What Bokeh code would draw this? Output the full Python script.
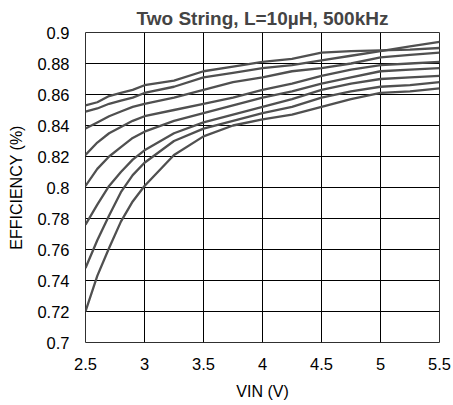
from bokeh.plotting import figure
from bokeh.embed import file_html
from bokeh.resources import INLINE
from bokeh.models import FixedTicker, Range1d

# ---- data ----
vin = [2.5, 2.6, 2.7, 2.8, 2.9, 3.0, 3.25, 3.5, 3.75, 4.0, 4.25, 4.5, 4.75, 5.0, 5.25, 5.5]
eff_1 = [0.853, 0.855, 0.859, 0.861, 0.863, 0.866, 0.869, 0.875, 0.878, 0.881, 0.883, 0.887, 0.888, 0.8885, 0.889, 0.890]
eff_2 = [0.849, 0.851, 0.854, 0.856, 0.858, 0.861, 0.865, 0.871, 0.874, 0.877, 0.879, 0.882, 0.885, 0.888, 0.891, 0.894]
eff_3 = [0.838, 0.842, 0.846, 0.849, 0.852, 0.854, 0.858, 0.863, 0.868, 0.871, 0.875, 0.877, 0.880, 0.884, 0.8855, 0.887]
eff_4 = [0.821, 0.829, 0.835, 0.839, 0.843, 0.846, 0.850, 0.854, 0.858, 0.863, 0.867, 0.872, 0.876, 0.879, 0.880, 0.881]
eff_5 = [0.801, 0.812, 0.820, 0.826, 0.832, 0.836, 0.843, 0.848, 0.853, 0.858, 0.862, 0.867, 0.871, 0.875, 0.876, 0.877]
eff_6 = [0.776, 0.789, 0.801, 0.810, 0.818, 0.824, 0.835, 0.842, 0.847, 0.852, 0.857, 0.863, 0.867, 0.870, 0.871, 0.872]
eff_7 = [0.748, 0.766, 0.782, 0.797, 0.808, 0.816, 0.830, 0.838, 0.843, 0.848, 0.852, 0.858, 0.862, 0.865, 0.866, 0.868]
eff_8 = [0.720, 0.743, 0.761, 0.778, 0.791, 0.801, 0.821, 0.833, 0.840, 0.844, 0.847, 0.852, 0.857, 0.861, 0.862, 0.864]
series = [eff_1, eff_2, eff_3, eff_4, eff_5, eff_6, eff_7, eff_8]

x_ticks = [2.5, 3, 3.5, 4, 4.5, 5, 5.5]
y_ticks = [0.7, 0.72, 0.74, 0.76, 0.78, 0.8, 0.82, 0.84, 0.86, 0.88, 0.9]

FONT = "Liberation Sans"

p = figure(width=452, height=404, output_backend="svg", toolbar_location=None,
           x_range=Range1d(2.5, 5.5), y_range=Range1d(0.7, 0.9),
           title="Two String, L=10\u00b5H, 500kHz",
           min_border_left=85, min_border_right=13, min_border_top=32, min_border_bottom=62)

p.title.text_font = FONT
p.title.text_font_size = "19px"
p.title.text_font_style = "bold"
p.title.align = "center"
p.title.standoff = 8
p.title.offset = 0

for s in series:
    p.line(vin, s, line_color="#505050", line_width=2.3)

p.outline_line_color = "#303030"
p.outline_line_width = 1

p.xaxis.ticker = FixedTicker(ticks=x_ticks)
p.yaxis.ticker = FixedTicker(ticks=y_ticks)
p.xaxis.major_label_overrides = {2.5: "2.5", 3: "3", 3.5: "3.5", 4: "4", 4.5: "4.5", 5: "5", 5.5: "5.5"}
p.yaxis.major_label_overrides = {0.7: "0.7", 0.72: "0.72", 0.74: "0.74", 0.76: "0.76", 0.78: "0.78",
                                 0.8: "0.8", 0.82: "0.82", 0.84: "0.84", 0.86: "0.86", 0.88: "0.88", 0.9: "0.9"}

for ax in (p.xaxis, p.yaxis):
    ax.axis_line_color = None
    ax.major_tick_line_color = None
    ax.minor_tick_line_color = None
    ax.major_tick_out = 0
    ax.major_tick_in = 0
    ax.major_label_text_font = FONT
    ax.major_label_text_font_size = "16.5px"
    ax.major_label_text_color = "black"
    ax.axis_label_text_font = FONT
    ax.axis_label_text_font_size = "16px"
    ax.axis_label_text_font_style = "normal"
    ax.axis_label_text_color = "black"

p.xaxis.axis_label = "VIN (V)"
p.yaxis.axis_label = "EFFICIENCY (%)"
p.xaxis.major_label_standoff = 15
p.yaxis.major_label_standoff = 16
p.xaxis.axis_label_standoff = 10
p.yaxis.axis_label_standoff = 9

p.xgrid.ticker = FixedTicker(ticks=x_ticks)
p.ygrid.ticker = FixedTicker(ticks=y_ticks)
p.grid.grid_line_color = "black"
p.grid.grid_line_width = 1
p.grid.grid_line_alpha = 1

p.background_fill_color = "white"
p.border_fill_color = "white"

open("out.html", "w").write(file_html(p, INLINE))
